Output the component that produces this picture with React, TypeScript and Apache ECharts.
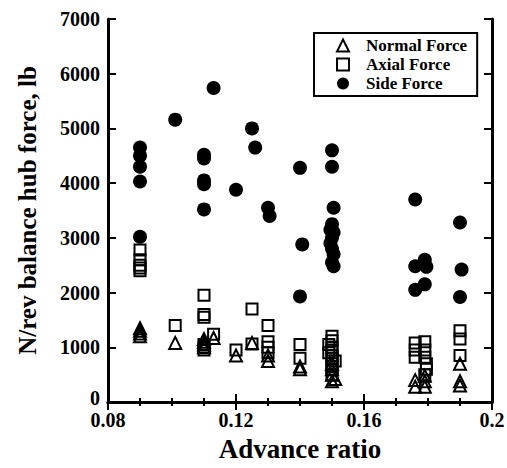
import React, { useEffect, useRef } from "react";
import * as echarts from "echarts";

const seriesNames = ["Normal Force", "Axial Force", "Side Force"];

// [advance ratio, force lb]
const normalForce: number[][] = [
  [0.09, 1350], [0.09, 1300], [0.09, 1250], [0.09, 1200],
  [0.101, 1080],
  [0.11, 1150], [0.11, 1100], [0.11, 1050], [0.11, 1000],
  [0.113, 1170],
  [0.12, 850],
  [0.125, 1080],
  [0.13, 850], [0.13, 750],
  [0.14, 650], [0.14, 600],
  [0.15, 700], [0.15, 600], [0.15, 500], [0.151, 420], [0.15, 380],
  [0.176, 400], [0.176, 280],
  [0.179, 480], [0.179, 380], [0.179, 280],
  [0.19, 700], [0.19, 380], [0.19, 300],
];

const axialForce: number[][] = [
  [0.09, 2780], [0.09, 2600], [0.09, 2500], [0.09, 2450], [0.09, 2400],
  [0.101, 1400],
  [0.11, 1950], [0.11, 1600], [0.11, 1550], [0.11, 1050], [0.11, 1000], [0.11, 950],
  [0.113, 1240],
  [0.12, 950],
  [0.125, 1700], [0.125, 1060],
  [0.13, 1400], [0.13, 1100], [0.13, 1000], [0.13, 900],
  [0.14, 1050], [0.14, 800],
  [0.15, 1200], [0.15, 1120], [0.149, 1050], [0.15, 1000], [0.15, 950], [0.149, 900],
  [0.15, 850], [0.15, 800], [0.151, 750], [0.15, 700], [0.15, 650], [0.15, 600], [0.15, 500],
  [0.176, 1080], [0.176, 950], [0.176, 820],
  [0.179, 1100], [0.179, 950], [0.179, 820], [0.1795, 700], [0.1795, 600], [0.179, 500],
  [0.19, 1300], [0.19, 1150], [0.19, 850],
];

const sideForce: number[][] = [
  [0.09, 4650], [0.09, 4500], [0.09, 4300], [0.09, 4030], [0.09, 3020],
  [0.101, 5160],
  [0.11, 4520], [0.11, 4450], [0.11, 4050], [0.11, 3980], [0.11, 3520],
  [0.113, 5740],
  [0.12, 3880],
  [0.125, 5000],
  [0.126, 4650],
  [0.13, 3550], [0.1305, 3400],
  [0.14, 4280], [0.1407, 2880], [0.14, 1930],
  [0.15, 4600], [0.15, 4300], [0.1505, 3550], [0.15, 3250], [0.1495, 3150], [0.1505, 3100],
  [0.15, 3000], [0.1495, 2900], [0.15, 2800], [0.1505, 2700], [0.15, 2550], [0.1505, 2480],
  [0.176, 3700], [0.176, 2480], [0.176, 2050],
  [0.179, 2600], [0.1795, 2470], [0.179, 2150],
  [0.19, 3280], [0.1905, 2420], [0.19, 1920],
];

const xTickLabels = ["0.08", "0.12", "0.16", "0.2"];
const yTickLabels = ["0", "1000", "2000", "3000", "4000", "5000", "6000", "7000"];

const FONT = "'Liberation Serif', 'Times New Roman', serif";

export default function App() {
  const ref = useRef<HTMLDivElement>(null);
  useEffect(() => {
    if (!ref.current) return;
    const chart = echarts.init(ref.current, undefined, { renderer: "svg" });
    const axisLine = { show: true, lineStyle: { color: "#000", width: 3 } };
    const xCommon = {
      type: "value",
      min: 0.08,
      max: 0.2,
      interval: 0.04,
      axisLine,
      splitLine: { show: false },
      axisTick: { show: true, inside: true, length: 8, lineStyle: { color: "#000", width: 2 } },
      minorTick: { show: true, splitNumber: 4, length: 4, lineStyle: { color: "#000", width: 2 } },
      minorSplitLine: { show: false },
    };
    const yCommon = {
      type: "value",
      min: 0,
      max: 7000,
      interval: 1000,
      axisLine,
      splitLine: { show: false },
      axisTick: { show: true, inside: true, length: 8, lineStyle: { color: "#000", width: 2 } },
    };
    const labelStyle = { color: "#000", fontFamily: FONT, fontWeight: "bold", fontSize: 20 };
    chart.setOption({
      animation: false,
      backgroundColor: "#fff",
      grid: { left: 108, top: 19, width: 384, height: 383, containLabel: false, outerBoundsMode: "none" },
      legend: {
        orient: "vertical",
        left: 314,
        top: 33,
        padding: [4, 10, 4, 22],
        itemGap: 2,
        itemWidth: 12,
        itemHeight: 12,
        borderColor: "#000",
        borderWidth: 2,
        borderRadius: 0,
        backgroundColor: "#fff",
        data: seriesNames,
        textStyle: { color: "#000", fontFamily: FONT, fontWeight: "bold", fontSize: 17, padding: [0, 0, 0, 12] },
      },
      xAxis: [
        {
          ...xCommon,
          position: "bottom",
          name: "Advance ratio",
          nameLocation: "middle",
          nameGap: 33,
          nameTextStyle: { color: "#000", fontFamily: FONT, fontWeight: "bold", fontSize: 27 },
          axisLabel: {
            ...labelStyle,
            margin: 8,
            formatter: (v: number) => {
              const s = String(parseFloat(v.toFixed(2)));
              return xTickLabels.includes(s) ? s : "";
            },
          },
        },
        { ...xCommon, position: "top", axisLabel: { show: false } },
      ],
      yAxis: [
        {
          ...yCommon,
          position: "left",
          name: "N/rev balance hub force, lb",
          nameLocation: "middle",
          nameGap: 68,
          nameTextStyle: { color: "#000", fontFamily: FONT, fontWeight: "bold", fontSize: 25 },
          axisLabel: {
            ...labelStyle,
            margin: 8,
            formatter: (v: number) => {
              const s = String(Math.round(v));
              if (s === "0") return "{z|0}";
              return yTickLabels.includes(s) ? s : "";
            },
            rich: {
              z: { ...labelStyle, padding: [0, 0, 8, 0] },
            },
          },
        },
        { ...yCommon, position: "right", axisLabel: { show: false } },
      ],
      series: [
        {
          name: seriesNames[0],
          type: "scatter",
          symbol: "triangle",
          symbolSize: 12,
          data: normalForce,
          itemStyle: { color: "transparent", borderColor: "#000", borderWidth: 2, opacity: 1 },
        },
        {
          name: seriesNames[1],
          type: "scatter",
          symbol: "rect",
          symbolSize: 11,
          data: axialForce,
          itemStyle: { color: "transparent", borderColor: "#000", borderWidth: 2, opacity: 1 },
        },
        {
          name: seriesNames[2],
          type: "scatter",
          symbol: "circle",
          symbolSize: 14,
          data: sideForce,
          itemStyle: { color: "#000", opacity: 1 },
        },
      ],
    });
    return () => chart.dispose();
  }, []);
  return <div ref={ref} style={{ position: "fixed", left: 0, top: 0, width: 507, height: 468 }} />;
}
